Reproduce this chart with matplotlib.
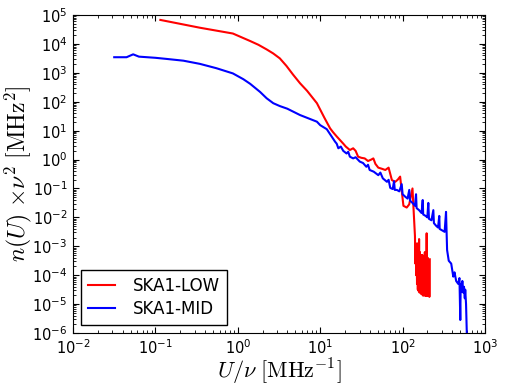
import numpy as np
import matplotlib
matplotlib.use("Agg")
import matplotlib.pyplot as plt
from matplotlib.ticker import LogLocator

# ---------------------------------------------------------------------------
# Curves, as (log10 x, log10 y) pairs
# ---------------------------------------------------------------------------
LOW_LOGX = [
    -0.94, -0.46, -0.06, 0.15, 0.25, 0.35, 0.43, 0.51, 0.59, 0.67,
    0.755, 0.84, 0.96, 1.05,
    1.12, 1.155, 1.20, 1.24, 1.28, 1.31, 1.36, 1.40, 1.43, 1.46,
    1.50, 1.54, 1.58, 1.62, 1.645, 1.67, 1.705, 1.75, 1.79, 1.83,
    1.87, 1.91, 1.94, 1.97, 2.01, 2.05, 2.08, 2.12,
    2.150, 2.155, 2.160, 2.165, 2.170, 2.175, 2.180, 2.185, 2.190, 2.195,
    2.200, 2.205, 2.210, 2.215, 2.220, 2.225, 2.230, 2.235, 2.240, 2.245,
    2.250, 2.255, 2.260, 2.265, 2.270, 2.275, 2.280, 2.285, 2.292, 2.298,
    2.305, 2.310, 2.320, 2.325, 2.330,
]
LOW_LOGY = [
    4.83, 4.56, 4.36, 4.10, 3.97, 3.81, 3.67, 3.50, 3.24, 2.94,
    2.64, 2.38, 1.95, 1.45,
    1.08, 0.95, 0.80, 0.675, 0.55, 0.45, 0.33, 0.39, 0.30, 0.10,
    0.06, 0.04, -0.05, 0.00, 0.04, -0.15, -0.28, -0.32, -0.36, -0.28,
    -0.71, -0.77, -0.70, -0.59, -1.60, -1.66, -1.55, -1.00,
    -2.65, -3.60, -2.90, -4.00, -3.00, -4.30, -2.90, -4.50, -3.10, -4.55,
    -2.75, -4.60, -3.20, -4.60, -3.30, -4.65, -3.40, -4.65, -3.30, -4.70,
    -3.50, -4.70, -3.50, -4.70, -3.20, -4.70, -3.60, -4.72, -2.55, -4.72,
    -3.40, -4.72, -3.50, -4.75, -3.45,
]

MID_LOGX = [
    -1.50, -1.35, -1.27, -1.20, -1.00, -0.86, -0.66, -0.46, -0.26, -0.06,
    0.067, 0.15, 0.27, 0.35, 0.43, 0.51, 0.60, 0.755, 0.96, 1.00, 1.08, 1.18, 1.20,
    1.22, 1.25, 1.28, 1.32, 1.34, 1.36, 1.40, 1.43, 1.48, 1.52,
    1.56, 1.58, 1.60, 1.65, 1.705, 1.73, 1.76, 1.81, 1.83, 1.85,
    1.88, 1.896, 1.905, 1.93, 1.96, 1.989, 2.00, 2.03, 2.06, 2.081,
    2.09, 2.12, 2.15, 2.163, 2.17, 2.20, 2.23, 2.244, 2.25, 2.28,
    2.30, 2.312, 2.32, 2.35, 2.373, 2.38, 2.41, 2.43, 2.445, 2.45,
    2.48, 2.51, 2.527, 2.54, 2.56, 2.59, 2.615, 2.63, 2.65, 2.675,
    2.69, 2.70, 2.705, 2.715, 2.725, 2.735, 2.745, 2.755, 2.76, 2.77,
    2.78,
]
MID_LOGY = [
    3.54, 3.54, 3.64, 3.56, 3.52, 3.48, 3.42, 3.31, 3.16, 2.98,
    2.78, 2.62, 2.34, 2.12, 1.95, 1.85, 1.76, 1.54, 1.31, 1.19, 1.05, 0.62, 0.55,
    0.39, 0.45, 0.30, 0.21, 0.27, 0.10, 0.04, 0.08, -0.07, -0.12,
    -0.25, -0.18, -0.36, -0.42, -0.54, -0.45, -0.65, -0.77, -0.70, -0.98,
    -1.02, -0.75, -1.05, -1.05, -1.10, -0.85, -1.20, -1.28, -1.35, -1.05,
    -1.42, -1.50, -1.60, -1.20, -1.68, -1.75, -1.85, -1.40, -1.90, -1.95,
    -2.00, -1.50, -2.05, -2.10, -1.75, -2.20, -2.30, -2.35, -1.95, -2.40,
    -2.45, -2.50, -1.81, -3.13, -3.50, -3.60, -4.05, -3.90, -4.20, -4.30,
    -4.10, -5.55, -4.30, -4.57, -4.20, -4.60, -4.40, -4.80, -4.50, -5.00,
    -6.10,
]

SERIES = [
    ("SKA1-LOW", LOW_LOGX, LOW_LOGY, "red"),
    ("SKA1-MID", MID_LOGX, MID_LOGY, "blue"),
]

plt.rcParams["mathtext.fontset"] = "cm"
plt.rcParams["axes.unicode_minus"] = False
plt.rcParams["xtick.direction"] = "in"
plt.rcParams["ytick.direction"] = "in"
plt.rcParams["xtick.top"] = True
plt.rcParams["ytick.right"] = True
plt.rcParams["xtick.major.size"] = 4
plt.rcParams["ytick.major.size"] = 4
plt.rcParams["xtick.minor.size"] = 2
plt.rcParams["ytick.minor.size"] = 2
plt.rcParams["xtick.major.pad"] = 4
plt.rcParams["ytick.major.pad"] = 4

fig = plt.figure(figsize=(5.06, 3.91), dpi=100)
ax = fig.add_axes([0.1443, 0.1483, 0.8142, 0.8133])

for name, lx, ly, color in SERIES:
    ax.plot(10 ** np.array(lx), 10 ** np.array(ly), color=color, lw=1.5, label=name)

ax.set_xscale("log")
ax.set_yscale("log")
ax.set_xlim(1e-2, 1e3)
ax.set_ylim(1e-6, 1e5)
ax.yaxis.set_major_locator(LogLocator(base=10, numticks=20))
ax.yaxis.set_minor_locator(LogLocator(base=10, subs=np.arange(2, 10), numticks=20))
ax.tick_params(labelsize=10.5)
ax.set_xlabel(r"$U/\nu\ [\mathrm{MHz}^{-1}]$", fontsize=16, labelpad=0)
ax.set_ylabel(r"$n(U)\ {\times}\nu^2\ [\mathrm{MHz}^2]$", fontsize=17)
ax.yaxis.set_label_coords(-0.095, 0.5)

leg = ax.legend(loc="lower left", fontsize=12, fancybox=False, framealpha=1,
                edgecolor="black", borderaxespad=0.5, handlelength=1.6,
                handletextpad=1.1, borderpad=0.4, labelspacing=0.3)
leg.get_frame().set_linewidth(1.0)

fig.savefig("out.png", dpi=100)
